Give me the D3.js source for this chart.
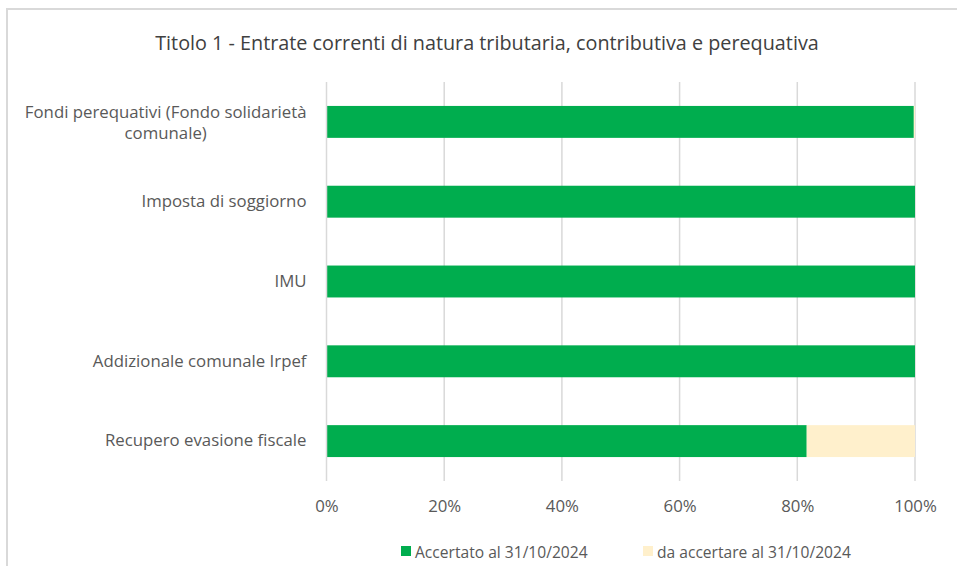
<!doctype html>
<html lang="it">
<head>
<meta charset="UTF-8">
<title>Titolo 1 - Entrate correnti</title>
<script src="https://cdn.jsdelivr.net/npm/d3@7"></script>
<style>
  body { margin: 0; background: #fff; }
  svg text { font-family: "Open Sans", "Noto Sans", sans-serif; fill: #595959; }
</style>
</head>
<body>
<svg id="chart" width="957" height="566"></svg>
<script>
// dati
var categories = [
  'Fondi perequativi (Fondo solidarietà comunale)',
  'Imposta di soggiorno',
  'IMU',
  'Addizionale comunale Irpef',
  'Recupero evasione fiscale'
];
var accertato = [99.8, 100, 100, 100, 81.6];
var daAccertare = [0.2, 0, 0, 0, 18.4];
var ticks = [0, 20, 40, 60, 80, 100];
var seriesNames = ['Accertato al 31/10/2024', 'da accertare al 31/10/2024'];
var colors = ['#00AD4E', '#FFF0CC'];

var svg = d3.select('#chart');
var margin = { top: 82, left: 326.5, right: 42, bottom: 85 };
var width = 957 - margin.left - margin.right;
var height = 566 - margin.top - margin.bottom;

// cornice
svg.append('path')
  .attr('d', 'M7,566 V9 H957')
  .attr('fill', 'none')
  .attr('stroke', '#d9d9d9')
  .attr('stroke-width', 2);

svg.append('text')
  .attr('x', 487).attr('y', 50)
  .attr('text-anchor', 'middle')
  .style('font-size', '19.8px')
  .style('fill', '#404040')
  .text('Titolo 1 - Entrate correnti di natura tributaria, contributiva e perequativa');

var g = svg.append('g').attr('transform', 'translate(' + margin.left + ',' + margin.top + ')');

var x = d3.scaleLinear().domain([0, 100]).range([0, width]);
var y = d3.scaleBand().domain(categories).range([0, height]).paddingInner(0.6).paddingOuter(0.3);

// griglia
g.selectAll('.grid').data(ticks.slice(1)).enter().append('line')
  .attr('x1', function(d) { return x(d); })
  .attr('x2', function(d) { return x(d); })
  .attr('y1', 0).attr('y2', height)
  .attr('stroke', '#d9d9d9').attr('stroke-width', 1.5);

var stack = categories.map(function(c, i) {
  return { cat: c, vals: [accertato[i], daAccertare[i]] };
});

stack.forEach(function(row) {
  var x0 = 0;
  row.vals.forEach(function(v, j) {
    g.append('rect')
      .attr('x', x(x0))
      .attr('y', y(row.cat))
      .attr('width', x(x0 + v) - x(x0))
      .attr('height', y.bandwidth())
      .attr('fill', colors[j]);
    x0 += v;
  });
});

// asse verticale
g.append('line')
  .attr('x1', 0).attr('x2', 0).attr('y1', 0).attr('y2', height)
  .attr('stroke', '#d9d9d9').attr('stroke-width', 1.5);

// etichette asse x
var xAxis = g.append('g')
  .attr('transform', 'translate(0,' + height + ')')
  .call(d3.axisBottom(x).tickValues(ticks).tickFormat(function(d) { return d + '%'; }).tickSize(0).tickPadding(19));
xAxis.select('.domain').remove();
xAxis.selectAll('text').style('font-size', '16.8px').style('fill', '#595959');

// etichette categorie
var yAxis = g.append('g')
  .call(d3.axisLeft(y).tickSize(0).tickPadding(20));
yAxis.select('.domain').remove();
yAxis.selectAll('text').style('font-size', '16.8px').style('fill', '#595959')
  .each(function(d) {
    if (d.indexOf('(') > 0) {
      var t = d3.select(this);
      var parts = ['Fondi perequativi (Fondo solidarietà', 'comunale)'];
      t.text(parts[0]);
      var w = this.getComputedTextLength();
      t.text(null).attr('dy', null).attr('text-anchor', 'middle');
      t.append('tspan').attr('x', -20 - w / 2).attr('y', -4).text(parts[0]);
      t.append('tspan').attr('x', -20 - w / 2).attr('dy', '1.25em').text(parts[1]);
    }
  });

// legenda
var legend = svg.append('g');
var lx = [401, 643];
seriesNames.forEach(function(s, i) {
  legend.append('rect')
    .attr('x', lx[i]).attr('y', 546).attr('width', 10).attr('height', 10)
    .attr('fill', colors[i]);
  legend.append('text')
    .attr('x', lx[i] + 14).attr('y', 557.5)
    .style('font-size', '15.6px')
    .text(s);
});
</script>
</body>
</html>
